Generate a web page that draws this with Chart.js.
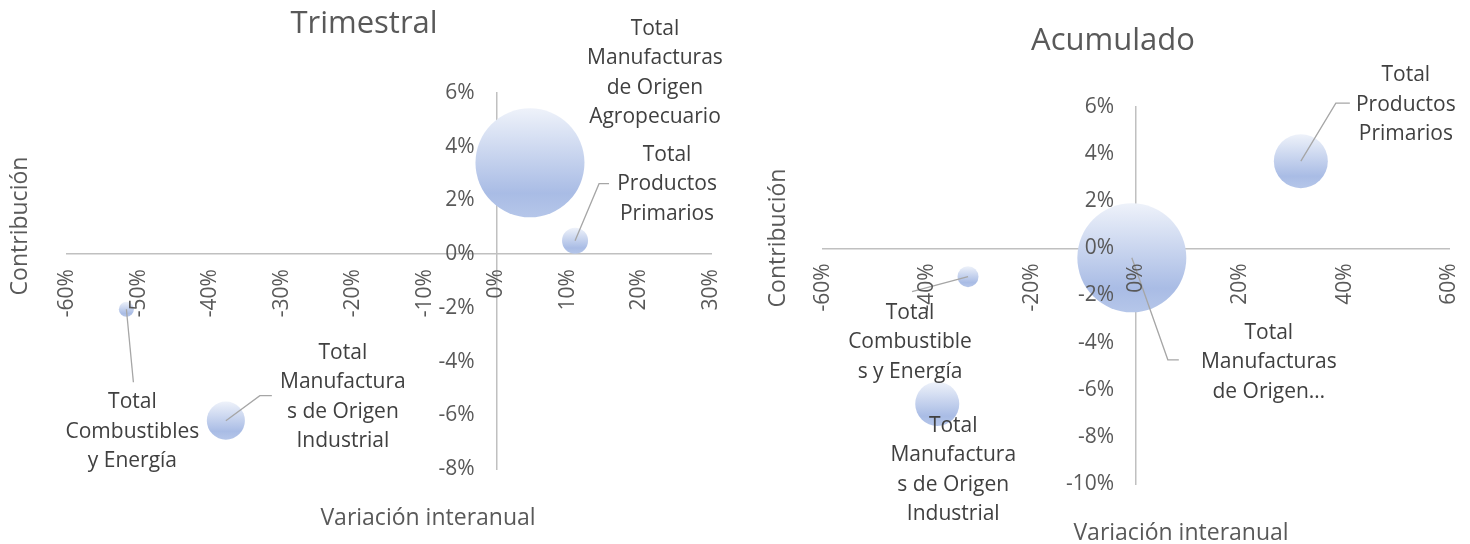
<!DOCTYPE html>
<html>
<head>
<meta charset="utf-8">
<script src="https://cdn.jsdelivr.net/npm/chart.js@4.4.1/dist/chart.umd.min.js"></script>
<style>
  body { margin: 0; background: #fff; overflow: hidden; }
  #wrap { position: relative; width: 1470px; height: 544px; overflow: hidden; }
  #c1 { position: absolute; left: 0; top: 0; }
  #c2 { position: absolute; left: 740px; top: 0; }
</style>
</head>
<body>
<div id="wrap">
  <!-- los lienzos se solapan: la burbuja mas grande obliga a Chart.js a dejar ~55px a la derecha -->
  <canvas id="c1" width="767" height="544"></canvas>
  <canvas id="c2" width="765" height="544"></canvas>
</div>
<script>
// categorias (mismo orden en ambos graficos)
const categories = [
  'Total Productos Primarios',
  'Total Manufacturas de Origen Agropecuario',
  'Total Manufacturas de Origen Industrial',
  'Total Combustibles y Energía'
];

// Trimestral: variacion interanual (%), contribucion (%), peso relativo (tamaño burbuja)
const trimVariacion = [11.0, 4.7, -37.8, -51.7];
const trimContribucion = [0.5, 3.4, -6.2, -2.05];
const trimPeso = [5.7, 100, 12.2, 1.9];

// Acumulado
const acumVariacion = [31.6, -0.8, -38.1, -32.2];
const acumContribucion = [3.7, -0.4, -6.6, -1.2];
const acumPeso = [24.5, 100, 16.3, 3.7];

// ticks
const trimXTicks = [-60, -50, -40, -30, -20, -10, 0, 10, 20, 30];
const trimYTicks = [-8, -6, -4, -2, 0, 2, 4, 6];
const acumXTicks = [-60, -40, -20, 0, 20, 40, 60];
const acumYTicks = [-10, -8, -6, -4, -2, 0, 2, 4, 6];

// textos
const trimTitulo = 'Trimestral';
const acumTitulo = 'Acumulado';
const ejeX = 'Variación interanual';
const ejeY = 'Contribución';

// etiquetas tal como las corta Excel
const trimEtiquetas = [
  ['Total', 'Productos', 'Primarios'],
  ['Total', 'Manufacturas', 'de Origen', 'Agropecuario'],
  ['Total', 'Manufactura', 's de Origen', 'Industrial'],
  ['Total', 'Combustibles', 'y Energía']
];
const acumEtiquetas = [
  ['Total', 'Productos', 'Primarios'],
  ['Total', 'Manufacturas', 'de Origen…'],
  ['Total', 'Manufactura', 's de Origen', 'Industrial'],
  ['Total', 'Combustible', 's y Energía']
];

Chart.defaults.font.family = "'Open Sans', sans-serif";
Chart.defaults.color = '#595959';

const MAX_R = 54.5;
const LINE_H = 29.5;

function buildPoints(xs, ys, pesos) {
  const maxPeso = Math.max(...pesos);
  return xs.map((x, i) => ({ x: x, y: ys[i], r: MAX_R * Math.sqrt(pesos[i] / maxPeso) }));
}

function bubbleFill(ctx) {
  const chart = ctx.chart;
  if (ctx.type !== 'data' || !chart.chartArea) return '#c3d0ee';
  const py = chart.scales.y.getPixelForValue(ctx.raw.y);
  const r = ctx.raw.r;
  const g = chart.ctx.createLinearGradient(0, py - r, 0, py + r);
  g.addColorStop(0, '#eef2fa');
  g.addColorStop(0.78, '#a9bce5');
  g.addColorStop(1, '#b5c6e9');
  return g;
}

function makeScales(xTicks, yTicks) {
  const tickBase = { color: '#595959', font: { size: 21 }, z: 1 };
  const noPad = s => { s.paddingLeft = 0; s.paddingRight = 0; s.paddingTop = 0; s.paddingBottom = 0; };
  return {
    x: {
      type: 'linear',
      position: { y: 0 },
      min: xTicks[0],
      max: xTicks[xTicks.length - 1],
      afterBuildTicks: s => { s.ticks = xTicks.map(v => ({ value: v })); },
      afterFit: s => { s.height = 0; noPad(s); },
      grid: { display: false, drawTicks: false },
      border: { display: true, color: '#c0c0c0', width: 1.5 },
      ticks: Object.assign({}, tickBase, {
        minRotation: 90, maxRotation: 90, autoSkip: false, padding: 15,
        callback: v => v + '%'
      })
    },
    y: {
      type: 'linear',
      position: { x: 0 },
      min: yTicks[0],
      max: yTicks[yTicks.length - 1],
      afterBuildTicks: s => { s.ticks = yTicks.map(v => ({ value: v })); },
      afterFit: s => { s.width = 0; noPad(s); },
      grid: { display: false, drawTicks: false },
      border: { display: true, color: '#c0c0c0', width: 1.5 },
      // con el eje centrado Chart.js ignora ticks.padding: se separa con espacios
      ticks: Object.assign({}, tickBase, { callback: v => v + '%    ' })
    }
  };
}

// plugin para etiquetas con lineas guia y titulos
function textosPlugin(cfg) {
  return {
    id: 'textos',
    afterDatasetsDraw(chart) {
      const ctx = chart.ctx;
      const meta = chart.getDatasetMeta(0);
      ctx.save();
      ctx.strokeStyle = '#a6a6a6';
      ctx.lineWidth = 1.3;
      cfg.lugares.forEach((lug, i) => {
        const p = meta.data[i];
        if (lug.guia) {
          ctx.beginPath();
          ctx.moveTo(p.x, p.y);
          lug.guia.forEach(q => ctx.lineTo(p.x + q[0], p.y + q[1]));
          ctx.stroke();
        }
      });
      ctx.fillStyle = '#404040';
      ctx.font = "21px 'Open Sans'";
      ctx.textAlign = 'center';
      ctx.textBaseline = 'middle';
      cfg.lugares.forEach((lug, i) => {
        const p = meta.data[i];
        cfg.etiquetas[i].forEach((t, k) => {
          ctx.fillText(t, p.x + lug.dx, p.y + lug.dy + k * LINE_H);
        });
      });
      ctx.restore();
    },
    afterDraw(chart) {
      const ctx = chart.ctx;
      ctx.save();
      ctx.fillStyle = '#595959';
      ctx.textAlign = 'center';
      ctx.textBaseline = 'alphabetic';
      ctx.font = "31px 'Open Sans'";
      ctx.fillText(cfg.titulo, cfg.tituloPos[0], cfg.tituloPos[1]);
      ctx.font = "23px 'Open Sans'";
      ctx.fillText(ejeX, cfg.ejeXPos[0], cfg.ejeXPos[1]);
      ctx.translate(cfg.ejeYPos[0], cfg.ejeYPos[1]);
      ctx.rotate(-Math.PI / 2);
      ctx.fillText(ejeY, 0, 0);
      ctx.restore();
    }
  };
}

function makeChart(id, puntos, xTicks, yTicks, pad, cfg) {
  return new Chart(document.getElementById(id), {
    type: 'bubble',
    data: {
      labels: categories,
      datasets: [{
        label: cfg.titulo,
        data: puntos,
        backgroundColor: bubbleFill,
        borderWidth: 0
      }]
    },
    options: {
      responsive: false,
      animation: false,
      events: [],
      clip: false,
      layout: { padding: pad },
      scales: makeScales(xTicks, yTicks),
      plugins: { legend: { display: false }, tooltip: { enabled: false }, title: { display: false } }
    },
    plugins: [textosPlugin(cfg)]
  });
}

makeChart('c1', buildPoints(trimVariacion, trimContribucion, trimPeso), trimXTicks, trimYTicks,
  { left: 67, right: 56, top: 93, bottom: 75 },
  {
    titulo: trimTitulo,
    tituloPos: [364, 33],
    ejeXPos: [428, 525],
    ejeYPos: [27, 226],
    etiquetas: trimEtiquetas,
    lugares: [
      { dx: 92, dy: -86, guia: [[24, -57], [34, -57]] },
      { dx: 125, dy: -134 },
      { dx: 117, dy: -68, guia: [[34, -25], [46, -25]] },
      { dx: 6, dy: 93, guia: [[7, 73]] }
    ]
  });

makeChart('c2', buildPoints(acumVariacion, acumContribucion, acumPeso), acumXTicks, acumYTicks,
  { left: 83, right: 56, top: 107, bottom: 60 },
  {
    titulo: acumTitulo,
    tituloPos: [373, 50],
    ejeXPos: [441, 540],
    ejeYPos: [45, 238],
    etiquetas: acumEtiquetas,
    lugares: [
      { dx: 105, dy: -86, guia: [[35, -58], [49, -58]] },
      { dx: 137, dy: 75, guia: [[36, 102], [47, 102]] },
      { dx: 16, dy: 22 },
      { dx: -58, dy: 36, guia: [[-56, 15]] }
    ]
  });
</script>
</body>
</html>
